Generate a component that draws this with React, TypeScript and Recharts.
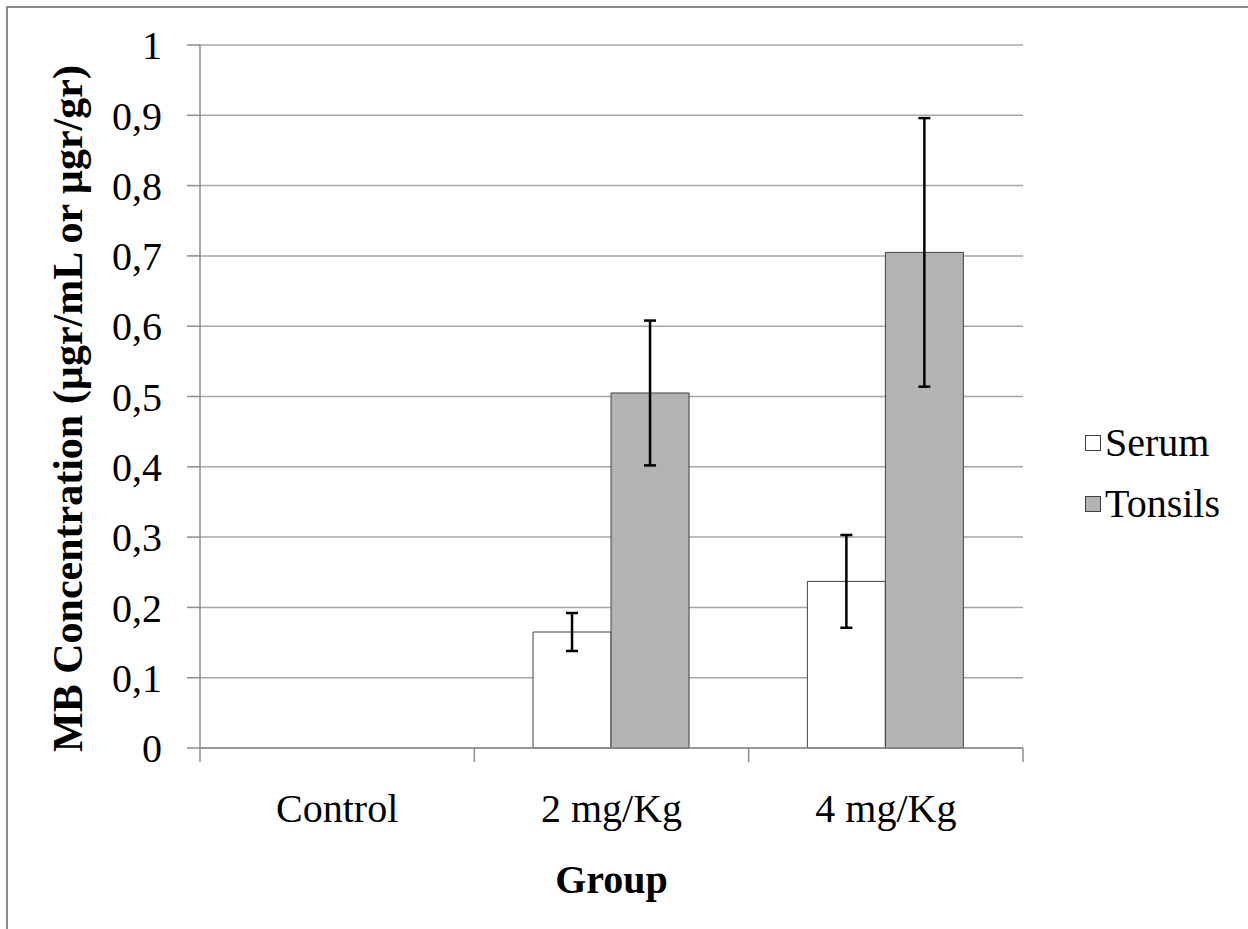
import { BarChart, Bar, XAxis, YAxis, CartesianGrid, ErrorBar, Legend, Label } from "recharts";

// values
const groups = ["Control", "2 mg/Kg", "4 mg/Kg"];
const serum = [null, 0.165, 0.237];
const serumErr = [null, 0.027, 0.066];
const tonsils = [null, 0.505, 0.705];
const tonsilsErr = [null, 0.103, 0.191];
const yTicks = [0, 0.1, 0.2, 0.3, 0.4, 0.5, 0.6, 0.7, 0.8, 0.9, 1];

const legendItems = [
  { name: "Serum", fill: "#ffffff" },
  { name: "Tonsils", fill: "#b3b3b3" },
];

const data = groups.map((g, i) => ({
  group: g,
  serum: serum[i],
  serumErr: serumErr[i],
  tonsils: tonsils[i],
  tonsilsErr: tonsilsErr[i],
}));

const font = '"Liberation Serif", "Times New Roman", serif';
const gridColor = "#a6a6a6";
const axisColor = "#8c8c8c";
const tickStyle = { fill: "#000", fontSize: 40, fontFamily: font };
const catMargin = 46;
const catTickLen = 14;

const renderLegend = () => (
  <div style={{ fontFamily: font, fontSize: 40, lineHeight: "61px", color: "#000" }}>
    {legendItems.map((item) => (
      <div key={item.name} style={{ display: "flex", alignItems: "center", fontFamily: font }}>
        <span
          style={{
            display: "inline-block",
            width: 14,
            height: 14,
            border: "1px solid #404040",
            background: item.fill,
            marginRight: 4,
          }}
        />
        <span style={{ fontFamily: font, fontSize: 40 }}>{item.name}</span>
      </div>
    ))}
  </div>
);

const YLabel = (props: any) => {
  const vb = props.viewBox;
  const x = vb.x + 68;
  const y = vb.y + vb.height / 2 + 12;
  return (
    <text
      x={x}
      y={y}
      transform={`rotate(-90 ${x} ${y})`}
      textAnchor="middle"
      dominantBaseline="central"
      fontFamily={font}
      fontSize={42}
      fontWeight="bold"
      fill="#000"
    >
      MB Concentration (µgr/mL or µgr/gr)
    </text>
  );
};

// category label plus tick marks on the group boundaries (like Excel)
const CatTick = (props: any) => {
  const { x, y, payload, index, visibleTicksCount } = props;
  const half = payload.offset || 0;
  const axisY = y - catMargin;
  const isLast = index === visibleTicksCount - 1;
  return (
    <g>
      <line x1={x - half} x2={x - half} y1={axisY} y2={axisY + catTickLen} stroke={axisColor} strokeWidth={1.5} />
      {isLast && (
        <line x1={x + half} x2={x + half} y1={axisY} y2={axisY + catTickLen} stroke={axisColor} strokeWidth={1.5} />
      )}
      <text x={x} y={y} dy="0.71em" textAnchor="middle" {...tickStyle}>
        {payload.value}
      </text>
    </g>
  );
};

export default function App() {
  return (
    <div
      style={{
        position: "absolute",
        left: 0,
        top: 0,
        width: 1248,
        height: 929,
        overflow: "hidden",
        background: "#fff",
      }}
    >
      <div
        style={{
          position: "absolute",
          left: 6,
          top: 6,
          width: 1400,
          height: 1100,
          border: "2px solid " + axisColor,
          boxSizing: "border-box",
        }}
      />
      <div style={{ position: "absolute", left: 0, top: 0 }}>
        <BarChart
          width={1248}
          height={929}
          data={data}
          margin={{ top: 45, right: 225, left: 0, bottom: 31 }}
          barCategoryGap="21.4%"
          barGap={0}
        >
          <CartesianGrid vertical={false} stroke={gridColor} strokeWidth={1.5} />
          <XAxis
            dataKey="group"
            height={150}
            axisLine={{ stroke: axisColor, strokeWidth: 1.5 }}
            tickLine={false}
            tickSize={0}
            tickMargin={catMargin}
            tick={CatTick}
            interval={0}
          >
            <Label
              value="Group"
              position="insideBottom"
              offset={5}
              style={{ fontFamily: font, fontSize: 40, fontWeight: "bold", fill: "#000" }}
            />
          </XAxis>
          <YAxis
            width={200}
            domain={[0, 1]}
            ticks={yTicks}
            interval={0}
            tickSize={13}
            tickMargin={25}
            tick={tickStyle}
            tickFormatter={(v: number) => String(v).replace(".", ",")}
            axisLine={{ stroke: axisColor, strokeWidth: 1.5 }}
            tickLine={{ stroke: axisColor, strokeWidth: 1.5 }}
          >
            <Label content={YLabel} />
          </YAxis>
          <Legend
            layout="vertical"
            align="center"
            verticalAlign="middle"
            content={renderLegend}
            wrapperStyle={{ left: 1085, top: 412, width: 150 }}
          />
          <Bar
            dataKey="serum"
            name="Serum"
            fill="#ffffff"
            stroke="#404040"
            strokeWidth={1}
            isAnimationActive={false}
          >
            <ErrorBar dataKey="serumErr" width={6} stroke="#000" strokeWidth={2.5} />
          </Bar>
          <Bar
            dataKey="tonsils"
            name="Tonsils"
            fill="#b3b3b3"
            stroke="#404040"
            strokeWidth={1}
            isAnimationActive={false}
          >
            <ErrorBar dataKey="tonsilsErr" width={6} stroke="#000" strokeWidth={2.5} />
          </Bar>
        </BarChart>
      </div>
    </div>
  );
}
